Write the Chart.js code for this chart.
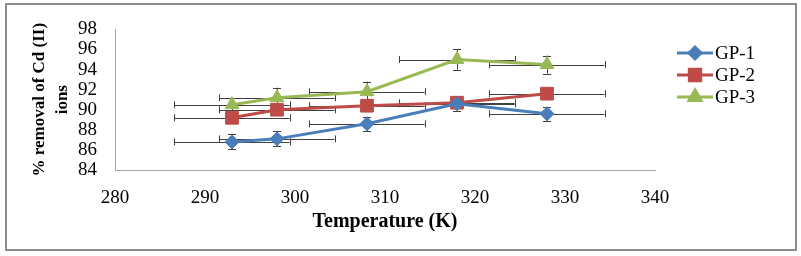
<!DOCTYPE html>
<html>
<head>
<meta charset="utf-8">
<script src="https://cdn.jsdelivr.net/npm/chart.js@4/dist/chart.umd.min.js"></script>
<style>
  body { margin:0; background:#fff; }
  canvas { display:block; }
</style>
</head>
<body>
<canvas id="chart" width="801" height="256"></canvas>
<script>
// temperatures (K)
var temps = [293, 298, 308, 318, 328];
// % removal of Cd (II) ions
var gp1 = [86.8, 87.1, 88.6, 90.6, 89.6];
var gp2 = [89.2, 90.0, 90.4, 90.7, 91.6];
var gp3 = [90.5, 91.2, 91.8, 95.0, 94.5];
// error bars
var xErr = [6.4, 6.4, 6.4, 6.4, 6.4];
var yErr1 = [0.75, 0.75, 0.7, 0.7, 0.7];
var yErr2 = [0.5, 0.5, 0.5, 0.5, 0.5];
var yErr3 = [0.7, 1.0, 1.0, 1.0, 0.9];
var seriesNames = ["GP-1", "GP-2", "GP-3"];
var seriesColors = ["#4a7ebb", "#be4b48", "#98b954"];
var seriesMarkers = ["rectRot", "rect", "triangle"];
var markerSizes = [7, 9, 8];

var font = "'Liberation Serif', 'Times New Roman', serif";

function points(ys){
  return temps.map(function(t, i){ return {x:t, y:ys[i]}; });
}

var allY = [gp1, gp2, gp3];
var allYErr = [yErr1, yErr2, yErr3];

var datasets = seriesNames.map(function(name, i){
  return {
    label:name,
    data:points(allY[i]),
    showLine:true,
    borderColor:seriesColors[i],
    backgroundColor:seriesColors[i],
    borderWidth:3,
    pointStyle:seriesMarkers[i],
    pointRadius:markerSizes[i],
    pointBorderWidth:1,
    pointBorderColor:seriesColors[i],
    pointBackgroundColor:seriesColors[i],
    yErr:allYErr[i]
  };
});

//Error bars drawn through the scales, under the markers
var errorBars = {
  id:"errorBars",
  beforeDatasetsDraw:function(chart){
    var ctx = chart.ctx;
    var xs = chart.scales.x, ys = chart.scales.y;
    ctx.save();
    ctx.strokeStyle = "#404040";
    ctx.lineWidth = 1;
    chart.data.datasets.forEach(function(ds){
      ds.data.forEach(function(p, i){
        var cx = xs.getPixelForValue(p.x), cy = ys.getPixelForValue(p.y);
        var x0 = xs.getPixelForValue(p.x - xErr[i]), x1 = xs.getPixelForValue(p.x + xErr[i]);
        var y0 = ys.getPixelForValue(p.y - ds.yErr[i]), y1 = ys.getPixelForValue(p.y + ds.yErr[i]);
        ctx.beginPath();
        ctx.moveTo(x0, Math.round(cy) + 0.5); ctx.lineTo(x1, Math.round(cy) + 0.5);
        ctx.moveTo(Math.round(x0) + 0.5, cy - 3.5); ctx.lineTo(Math.round(x0) + 0.5, cy + 3.5);
        ctx.moveTo(Math.round(x1) + 0.5, cy - 3.5); ctx.lineTo(Math.round(x1) + 0.5, cy + 3.5);
        ctx.moveTo(Math.round(cx) + 0.5, y0); ctx.lineTo(Math.round(cx) + 0.5, y1);
        ctx.moveTo(cx - 4, Math.round(y0) + 0.5); ctx.lineTo(cx + 4, Math.round(y0) + 0.5);
        ctx.moveTo(cx - 4, Math.round(y1) + 0.5); ctx.lineTo(cx + 4, Math.round(y1) + 0.5);
        ctx.stroke();
      });
    });
    ctx.restore();
  }
};

//Legend (line + marker) and outer frame
var frameAndLegend = {
  id:"frameAndLegend",
  afterDraw:function(chart){
    var ctx = chart.ctx;
    ctx.save();
    ctx.strokeStyle = "#8c8c8c";
    ctx.lineWidth = 2;
    ctx.strokeRect(6, 4, 790, 246);

    var lx = 677, ly = 53, gap = 22;
    chart.data.datasets.forEach(function(ds, i){
      var y = ly + i * gap;
      ctx.strokeStyle = ds.borderColor;
      ctx.lineWidth = 3;
      ctx.beginPath();
      ctx.moveTo(lx, y); ctx.lineTo(lx + 36, y);
      ctx.stroke();
      Chart.helpers.drawPoint(ctx, {
        pointStyle:ds.pointStyle, radius:ds.pointRadius - 1, borderWidth:1, rotation:0
      }, lx + 18, y);
      ctx.fillStyle = ds.backgroundColor;
      ctx.fill();
      ctx.fillStyle = "#000";
      ctx.font = "19px " + font;
      ctx.textBaseline = "middle";
      ctx.fillText(ds.label, lx + 38, y + 1);
    });
    ctx.restore();
  }
};

new Chart(document.getElementById("chart"), {
  type:"scatter",
  data:{datasets:datasets},
  plugins:[errorBars, frameAndLegend],
  options:{
    responsive:false,
    animation:false,
    events:[],
    layout:{padding:{left:0, top:23, right:146, bottom:0}},
    plugins:{legend:{display:false}, tooltip:{enabled:false}},
    scales:{
      x:{
        type:"linear", min:280, max:340,
        afterFit:function(s){ s.height = 86; },
        ticks:{stepSize:10, padding:17, autoSkip:false, color:"#000", font:{family:font, size:19}},
        grid:{display:false, drawTicks:false},
        border:{display:true, color:"#a6a6a6", width:1},
        title:{display:true, text:"Temperature (K)", color:"#000",
          font:{family:font, size:20, weight:"bold", lineHeight:1.2}, padding:{top:0, bottom:22}}
      },
      y:{
        min:84, max:98,
        afterFit:function(s){ s.width = 115; },
        ticks:{stepSize:2, padding:18, autoSkip:false, color:"#000", font:{family:font, size:19}},
        grid:{display:false, drawTicks:false},
        border:{display:true, color:"#a6a6a6", width:1},
        title:{display:true, text:["% removal of Cd (II)", "ions"], color:"#000",
          font:{family:font, size:17, weight:"bold", lineHeight:1.3}, padding:{top:29, bottom:0}}
      }
    }
  }
});
</script>
</body>
</html>
